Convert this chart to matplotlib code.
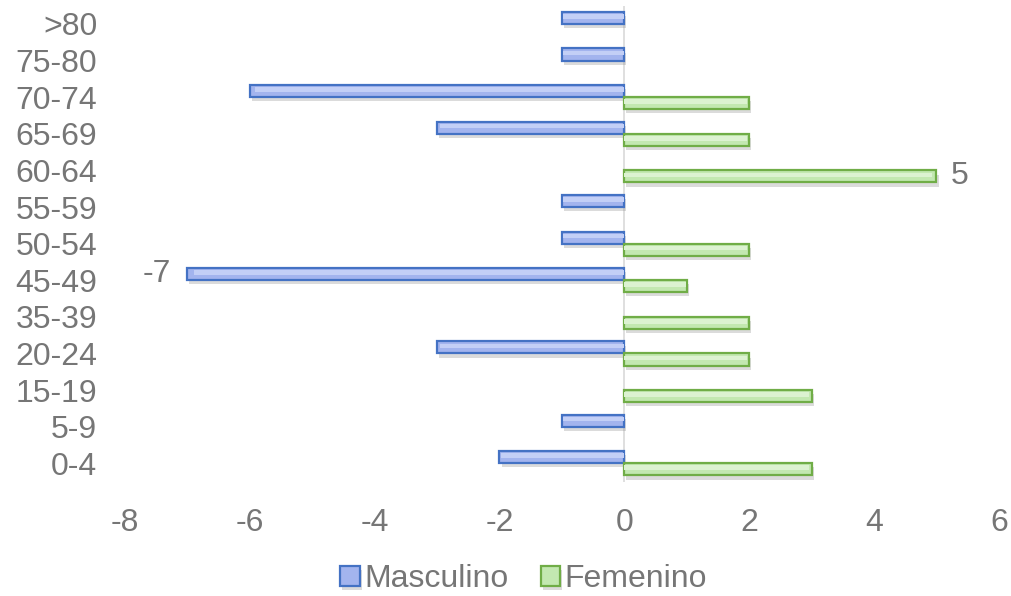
import matplotlib.pyplot as plt
import matplotlib.patheffects as pe
import numpy as np

plt.rcParams['font.family'] = ['Liberation Sans', 'DejaVu Sans']
plt.rcParams['axes.unicode_minus'] = False

# Datos
grupos = ['0-4', '5-9', '15-19', '20-24', '35-39', '45-49', '50-54',
          '55-59', '60-64', '65-69', '70-74', '75-80', '>80']
masculino = [-2, -1, 0, -3, 0, -7, -1, -1, 0, -3, -6, -1, -1]
femenino = [3, 0, 3, 2, 2, 1, 2, 0, 5, 2, 2, 0, 0]

gris = '#767676'
azul_borde, azul_fill, azul_brillo = '#4472c4', '#a3b4ee', '#c3cff6'
verde_borde, verde_fill, verde_brillo = '#70ad47', '#c3e8b1', '#dcf2d1'
fs = 23

fig = plt.figure(figsize=(10.11, 5.96), dpi=100)
ax = fig.add_axes([0.1236, 0.192, 0.8644, 0.7985])

y = np.arange(len(grupos))
h = 0.33
sombra = [pe.SimplePatchShadow(offset=(1.5, -3), shadow_rgbFace='#888888', alpha=0.3), pe.Normal()]

bm = ax.barh(y + h / 2, masculino, height=h, color=azul_fill, edgecolor=azul_borde,
             linewidth=1.6, label='Masculino', zorder=3)
bf = ax.barh(y - h / 2, femenino, height=h, color=verde_fill, edgecolor=verde_borde,
             linewidth=1.6, label='Femenino', zorder=3)
for b in list(bm) + list(bf):
    if b.get_width() != 0:
        b.set_path_effects(sombra)
    else:
        b.set_visible(False)

# brillo en la parte alta de cada barra (efecto degradado)
m_arr = np.array(masculino, dtype=float)
f_arr = np.array(femenino, dtype=float)
ax.barh(y + h / 2 + h * 0.13, m_arr * 0.985, height=h * 0.38, color=azul_brillo,
        linewidth=0, zorder=4)
ax.barh(y - h / 2 + h * 0.13, f_arr * 0.985, height=h * 0.38, color=verde_brillo,
        linewidth=0, zorder=4)

# etiquetas de los extremos
i_min = int(np.argmin(masculino))
i_max = int(np.argmax(femenino))
ax.annotate(f'{masculino[i_min]}', (masculino[i_min], y[i_min] + h / 2), xytext=(-22, 0),
            textcoords='offset points', ha='center', va='center', fontsize=fs, color=gris)
ax.annotate(f'{femenino[i_max]}', (femenino[i_max], y[i_max] - h / 2), xytext=(17, 0),
            textcoords='offset points', ha='center', va='center', fontsize=fs, color=gris)

ax.axvline(0, color='#d9d9d9', linewidth=1.2, zorder=2)
ax.set_xlim(-8, 6)
ax.set_ylim(-0.5, len(grupos) - 0.5)
ax.set_xticks(range(-8, 7, 2))
ax.set_yticks(y)
ax.set_yticklabels(grupos)
ax.tick_params(axis='both', length=0, labelsize=fs, colors=gris)
ax.tick_params(axis='x', pad=19)
ax.tick_params(axis='y', pad=20)
for s in ax.spines.values():
    s.set_visible(False)

fig.legend(handles=[bm, bf], loc='center', bbox_to_anchor=(0.518, 0.028), ncol=2, frameon=False,
           fontsize=fs, labelcolor=gris, handlelength=0.6, handleheight=0.6,
           handletextpad=0.15, columnspacing=1.0)

fig.savefig('out.png', dpi=100)
